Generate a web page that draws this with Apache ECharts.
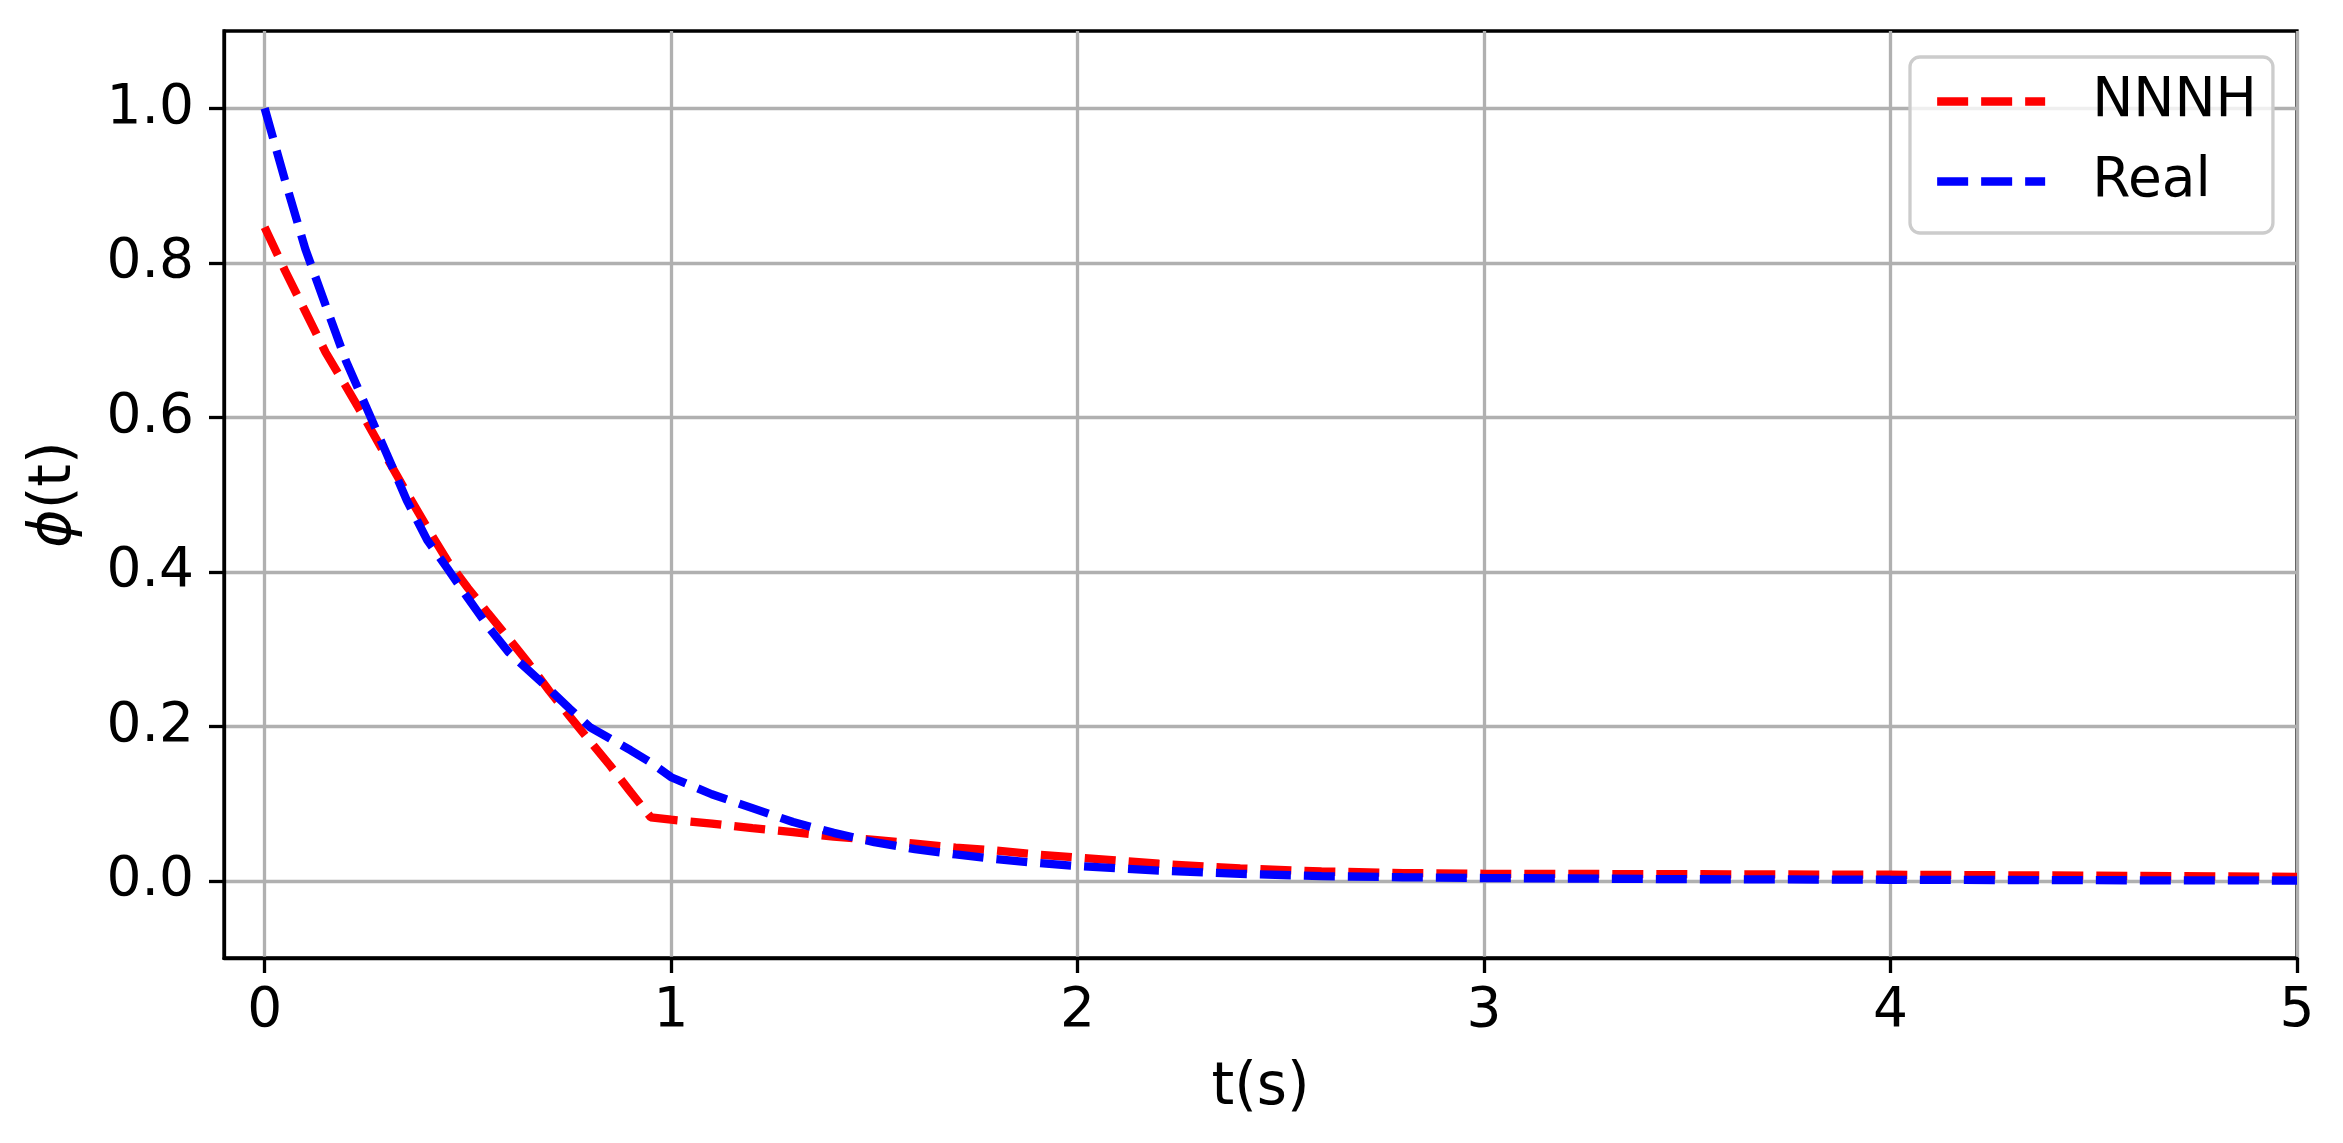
<!DOCTYPE html>
<html>
<head>
<meta charset="utf-8">
<script src="https://cdn.jsdelivr.net/npm/echarts@6/dist/echarts.min.js"></script>
<style>
html,body{margin:0;padding:0;background:#fff;}
#chart{width:2343px;height:1143px;}
</style>
</head>
<body>
<div id="chart"></div>
<script>
// Time samples (s)
const tNNNH = [0, 0.05, 0.1, 0.15, 0.2, 0.25, 0.3, 0.35, 0.4, 0.45, 0.5, 0.55, 0.6, 0.65, 0.7, 0.75, 0.8, 0.85, 0.9, 0.95,
  1.0, 1.1, 1.2, 1.3, 1.4, 1.5, 1.6, 1.7, 1.8, 1.9, 2.0, 2.2, 2.4, 2.6, 2.8, 3.0, 3.5, 4.0, 4.5, 5.0];
const phiNNNH = [0.846, 0.790, 0.737, 0.684, 0.640, 0.595, 0.548, 0.502, 0.457, 0.414, 0.379, 0.346, 0.314, 0.281, 0.246, 0.213, 0.181, 0.149, 0.115, 0.082,
  0.079, 0.074, 0.068, 0.063, 0.057, 0.053, 0.048, 0.043, 0.039, 0.034, 0.030, 0.022, 0.016, 0.012, 0.010, 0.009, 0.0085, 0.0078, 0.0065, 0.005];

const tReal = [0, 0.05, 0.1, 0.15, 0.2, 0.25, 0.3, 0.35, 0.4, 0.45, 0.5, 0.55, 0.6, 0.65, 0.7, 0.75, 0.8, 0.85, 0.9, 0.95,
  1.0, 1.1, 1.2, 1.3, 1.4, 1.5, 1.6, 1.7, 1.8, 1.9, 2.0, 2.2, 2.4, 2.6, 2.8, 3.0, 3.5, 4.0, 4.5, 5.0];
const phiReal = [1.0, 0.907, 0.818, 0.745, 0.673, 0.613, 0.553, 0.492, 0.441, 0.404, 0.366, 0.329, 0.296, 0.272, 0.248, 0.223, 0.199, 0.184, 0.169, 0.153,
  0.134, 0.112, 0.094, 0.076, 0.062, 0.050, 0.041, 0.034, 0.028, 0.023, 0.019, 0.013, 0.009, 0.006, 0.0045, 0.0035, 0.002, 0.0013, 0.0007, 0.0003];

const xTicks = [0, 1, 2, 3, 4, 5];
const yTicks = [0.0, 0.2, 0.4, 0.6, 0.8, 1.0];
const seriesNames = ['NNNH', 'Real'];

const FONT = 'DejaVu Sans';
const chart = echarts.init(document.getElementById('chart'), null, {renderer: 'canvas'});

const pairs = (xs, ys) => xs.map((x, i) => [x, ys[i]]);

chart.setOption({
  animation: false,
  backgroundColor: '#ffffff',
  grid: {
    left: 224, right: 46, top: 31, bottom: 185,
    show: true, borderColor: '#000', borderWidth: 3.3, backgroundColor: 'transparent'
  },
  legend: {
    left: 1910, top: 57,
    orient: 'vertical',
    itemWidth: 108, itemHeight: 36, itemGap: 25,
    padding: [17, 16, 24, 23],
    backgroundColor: 'rgba(255,255,255,0.8)',
    borderColor: '#cccccc', borderWidth: 3.3, borderRadius: 10,
    itemStyle: {opacity: 0, borderWidth: 0},
    lineStyle: {width: 8.3, type: [31, 13]},
    textStyle: {fontFamily: FONT, fontSize: 55, color: '#000', padding: [0, 0, 0, 42]},
    data: seriesNames
  },
  xAxis: {
    type: 'value', min: -0.1, max: 5,
    name: 't(s)', nameLocation: 'middle', nameGap: 102,
    nameTextStyle: {fontFamily: FONT, fontSize: 58, color: '#000'},
    axisLine: {onZero: false, lineStyle: {color: '#000', width: 3.3}},
    axisTick: {show: true, inside: false, length: 15, lineStyle: {color: '#000', width: 3.3}, customValues: xTicks},
    axisLabel: {fontFamily: FONT, fontSize: 55, color: '#000', margin: 26, customValues: xTicks,
      formatter: v => String(v)},
    splitLine: {show: true, lineStyle: {color: '#b0b0b0', width: 3.3}}
  },
  yAxis: {
    type: 'value', min: -0.1, max: 1.1,
    name: '{i|ϕ}(t)', nameLocation: 'middle', nameGap: 140, nameRotate: 90,
    nameTextStyle: {fontFamily: FONT, fontSize: 58, color: '#000',
      rich: {i: {fontFamily: FONT, fontStyle: 'italic', fontSize: 58, color: '#000'}}},
    axisLine: {onZero: false, lineStyle: {color: '#000', width: 3.3}},
    axisTick: {show: true, inside: false, length: 15, lineStyle: {color: '#000', width: 3.3}, customValues: yTicks},
    axisLabel: {fontFamily: FONT, fontSize: 55, color: '#000', margin: 30, customValues: yTicks,
      formatter: v => Number(v).toFixed(1)},
    splitLine: {show: true, lineStyle: {color: '#b0b0b0', width: 3.3}}
  },
  series: [
    {
      name: seriesNames[0], type: 'line', data: pairs(tNNNH, phiNNNH),
      symbol: 'none', showSymbol: false, smooth: false, clip: true,
      lineStyle: {color: '#ff0000', width: 8.3, type: [31, 13]},
      itemStyle: {color: '#ff0000'}
    },
    {
      name: seriesNames[1], type: 'line', data: pairs(tReal, phiReal),
      symbol: 'none', showSymbol: false, smooth: false, clip: true,
      lineStyle: {color: '#0000ff', width: 8.3, type: [31, 13]},
      itemStyle: {color: '#0000ff'}
    }
  ]
});
</script>
</body>
</html>
